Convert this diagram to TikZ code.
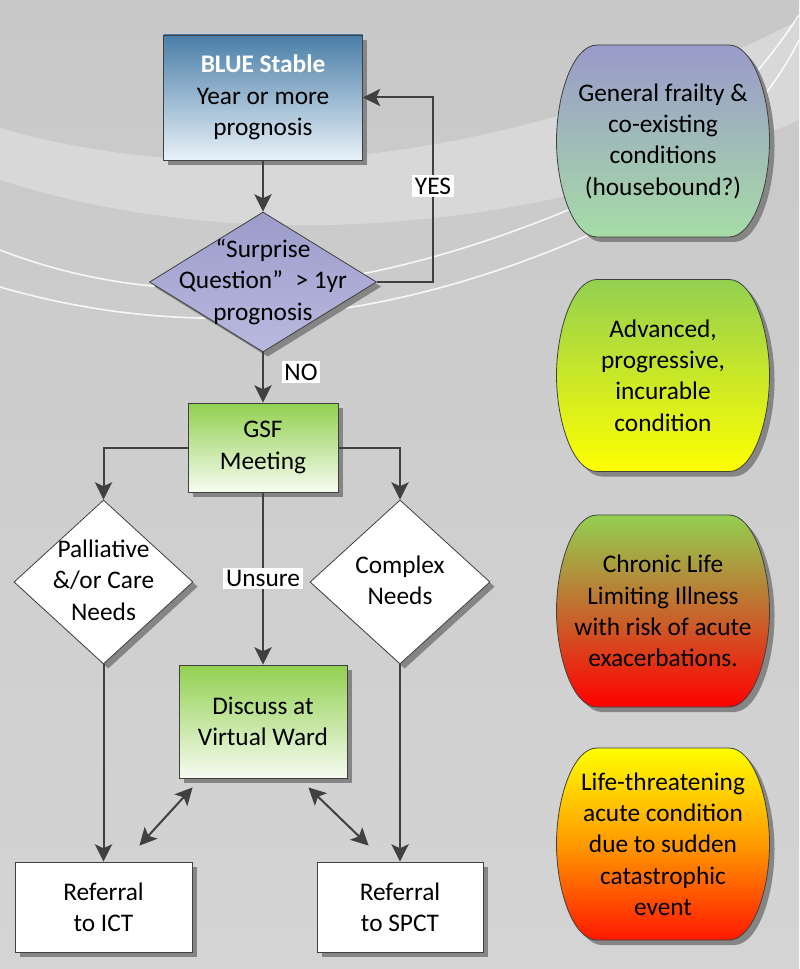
\documentclass[tikz,border=0pt]{standalone}
\usepackage{fontspec}
\setmainfont{Carlito}
\usepackage{tikz}
\usetikzlibrary{arrows.meta,positioning,calc,shapes.geometric,shadows}

\definecolor{linegray}{HTML}{404040}
\definecolor{shadowgray}{HTML}{858585}
\definecolor{bgtop}{HTML}{C8C8C8}
\definecolor{bgbot}{HTML}{D4D4D4}
\definecolor{bandlight}{HTML}{D8D8D8}
\definecolor{blueTop}{HTML}{4A7EA8}
\definecolor{blueBot}{HTML}{E8F1F8}
\definecolor{sqTop}{HTML}{9C9CCA}
\definecolor{sqBot}{HTML}{B9B9E0}
\definecolor{gsfTop}{HTML}{92D050}
\definecolor{gsfBot}{HTML}{F6FBF0}
\definecolor{frailTop}{HTML}{9A9ACA}
\definecolor{frailBot}{HTML}{A6DCA6}
\definecolor{chronMid}{HTML}{C46A2E}
\definecolor{acuteMid}{HTML}{FF9A00}
\definecolor{acuteBot}{HTML}{FF1800}
\newcommand{\zbox}[1]{\makebox[0pt]{\smash{\raisebox{-.25em}{\begin{tabular}{@{}c@{}}#1\end{tabular}}}}}
\newcommand{\ovalpath}[2]{(#1-66,#2-96) -- (#1+66,#2-96) .. controls (#1+90,#2-96) and (#1+106.5,#2-46) .. (#1+106.5,#2) .. controls (#1+106.5,#2+46) and (#1+90,#2+96) .. (#1+66,#2+96) -- (#1-66,#2+96) .. controls (#1-90,#2+96) and (#1-106.5,#2+46) .. (#1-106.5,#2) .. controls (#1-106.5,#2-46) and (#1-90,#2-96) .. cycle}

\begin{document}
\begin{tikzpicture}[x=0.75pt, y=-0.75pt, every node/.style={font=\fontsize{19}{23.5}\selectfont},
  arr/.style={draw=linegray, line width=1.5pt, -{Stealth[length=13pt,width=13pt,inset=3pt]}},
  dbl/.style={draw=linegray, line width=1.5pt, {Stealth[length=13pt,width=13pt,inset=3pt]}-{Stealth[length=13pt,width=13pt,inset=3pt]}},
  flowbox/.style={rectangle, draw=linegray, line width=0.6pt, align=center, inner sep=0pt,
    drop shadow={shadow xshift=3.5pt, shadow yshift=-3.5pt, fill=shadowgray, opacity=1}},
  bluebox/.style={flowbox, top color=blueTop, bottom color=blueBot},
  greenbox/.style={flowbox, top color=gsfTop, bottom color=gsfBot},
  refbox/.style={flowbox, fill=white},
  decision/.style={diamond, draw=linegray, line width=0.6pt, inner sep=0pt,
    drop shadow={shadow xshift=3.5pt, shadow yshift=-3.5pt, fill=shadowgray, opacity=1}},
  lbl/.style={fill=white, inner sep=2pt},
  ovaltext/.style={align=center, inner sep=0pt},
  ovalline/.style={draw=linegray, line width=0.6pt},
  swoosh/.style={draw=white, line width=1.2pt, opacity=0.85}]

% background
\useasboundingbox (0,0) rectangle (799,969);
\shade[top color=bgtop, bottom color=bgbot] (0,0) rectangle (799,969);
\fill[bandlight] (0,128) .. controls (250,200) and (550,150) .. (799,20) -- (799,120) .. controls (550,230) and (250,260) .. (0,180) -- cycle;
\draw[swoosh] (0,250) .. controls (180,320) and (380,290) .. (580,205) .. controls (680,160) and (750,90) .. (799,15);
\draw[swoosh] (0,287) .. controls (200,345) and (400,320) .. (600,230) .. controls (700,180) and (770,100) .. (799,40);

% flow chart
\node[bluebox, minimum width=149.25pt, minimum height=93.75pt] (blue) at (263,97.5) {\textcolor{white}{\textbf{BLUE Stable}}\\Year or more\\prognosis};
\node[decision, top color=sqTop, bottom color=sqBot, minimum width=170.25pt, minimum height=105pt] (sq) at (263,282) {\zbox{“Surprise\\Question”\enskip > 1yr\\prognosis}};
\node[greenbox, minimum width=112.5pt, minimum height=66.75pt] (gsf) at (263,447.5) {GSF\\Meeting};
\node[decision, fill=white, minimum width=134.25pt, minimum height=123pt] (pall) at (103.5,582) {\zbox{Palliative\\\&/or Care\\Needs}};
\node[decision, fill=white, minimum width=135pt, minimum height=123pt] (cplx) at (400,582) {\zbox{Complex\\Needs}};
\node[greenbox, minimum width=126pt, minimum height=84.75pt] (discuss) at (263,721.5) {Discuss at\\Virtual Ward};
\node[refbox, minimum width=132.75pt, minimum height=67.5pt] (ict) at (103.5,907) {Referral\\to ICT};
\node[refbox, minimum width=124.5pt, minimum height=67.5pt] (spct) at (400,907) {Referral\\to SPCT};
\coordinate (yesturn) at (433,97.5);

\draw[arr] (blue) -- (sq);
\draw[arr] (sq.east) -| node[lbl, pos=0.76] (yes) {YES} (yesturn) -- (blue.east);
\draw[arr] (sq) -- (gsf);
\node[lbl] (no) at (301,372) {NO};
\draw[arr] (gsf.west) -| (pall.north);
\draw[arr] (gsf.east) -| (cplx.north);
\draw[arr] (gsf) -- node[lbl] (unsure) {Unsure} (discuss);
\draw[arr] (pall) -- (ict);
\draw[arr] (cplx) -- (spct);
\draw[dbl] ($(ict.north east)+(-53,-16)$) -- ($(discuss.south west)+(14,9)$);
\draw[dbl] ($(spct.north west)+(52,-16)$) -- ($(discuss.south east)+(-39,9)$);

% risk ovals
\fill[shadowgray, shift={(5,5)}] \ovalpath{663}{141};
\shade[top color=frailTop, bottom color=frailBot] \ovalpath{663}{141};
\draw[ovalline] \ovalpath{663}{141};
\node[ovaltext] (frail) at (663,141) {General frailty \&\\co-existing\\conditions\\(housebound?)};

\fill[shadowgray, shift={(5,5)}] \ovalpath{663}{375.5};
\shade[top color=gsfTop, bottom color=yellow] \ovalpath{663}{375.5};
\draw[ovalline] \ovalpath{663}{375.5};
\node[ovaltext] (advanced) at (663,375.5) {Advanced,\\progressive,\\incurable\\condition};

\fill[shadowgray, shift={(5,5)}] \ovalpath{663}{611};
\shade[top color=gsfTop, bottom color=red, middle color=chronMid] \ovalpath{663}{611};
\draw[ovalline] \ovalpath{663}{611};
\node[ovaltext] (chronic) at (663,611) {Chronic Life\\Limiting Illness\\with risk of acute\\exacerbations.};

\fill[shadowgray, shift={(5,5)}] \ovalpath{663}{844};
\shade[top color=yellow, bottom color=acuteBot, middle color=acuteMid] \ovalpath{663}{844};
\draw[ovalline] \ovalpath{663}{844};
\node[ovaltext] (acute) at (663,844) {Life-threatening\\acute condition\\due to sudden\\catastrophic\\event};
\end{tikzpicture}
\end{document}
